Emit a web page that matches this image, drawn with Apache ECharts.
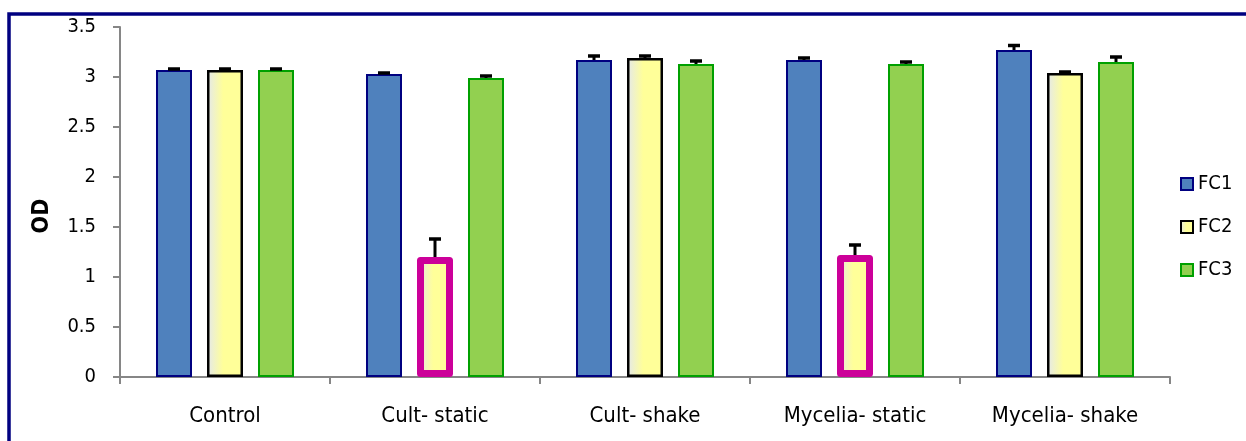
<!DOCTYPE html>
<html>
<head>
<meta charset="utf-8">
<script src="https://cdn.jsdelivr.net/npm/echarts@6/dist/echarts.min.js"></script>
<style>html,body{margin:0;padding:0;background:#fff;}#chart{width:1246px;height:441px;}</style>
</head>
<body>
<div id="chart"></div>
<script>
const categories = ['Control', 'Cult- static', 'Cult- shake', 'Mycelia- static', 'Mycelia- shake'];
const seriesNames = ['FC1', 'FC2', 'FC3'];
const yTitle = 'OD';
const fc1 = [3.07, 3.03, 3.17, 3.17, 3.27];
const fc1Err = [0.01, 0.01, 0.04, 0.02, 0.045];
const fc2 = [3.07, 1.20, 3.19, 1.22, 3.04];
const fc2Err = [0.01, 0.18, 0.02, 0.10, 0.01];
const fc3 = [3.07, 2.99, 3.13, 3.13, 3.15];
const fc3Err = [0.01, 0.02, 0.03, 0.02, 0.05];
const highlightedFc2 = [false, true, false, true, false];
const yTicks = { min: 0, max: 3.5, interval: 0.5 };

const FONT = '"DejaVu Sans Condensed", "Liberation Sans Narrow", "Liberation Sans", Arial, sans-serif';
const BAR_W = 36, BAR_GAP = 15;
const fc2Fill = { type: 'linear', x: 0, y: 0, x2: 1, y2: 0, colorStops: [
  { offset: 0, color: '#E4E8EC' }, { offset: 0.45, color: '#FFFF99' }, { offset: 1, color: '#FFFF99' } ] };

function errSeries(name, vals, errs, idx) {
  const offset = (idx - 1) * (BAR_W + BAR_GAP);
  return {
    name: name + ' err', type: 'custom', z: 5,
    data: vals.map((v, i) => [i, v, errs[i]]),
    renderItem: function (params, api) {
      const x = api.value(0), v = api.value(1), e = api.value(2);
      const base = api.coord([x, v]);
      const top = api.coord([x, v + e]);
      const cx = base[0] + offset;
      return { type: 'group', children: [
        { type: 'line', shape: { x1: cx, y1: base[1], x2: cx, y2: top[1] }, style: { stroke: '#000', lineWidth: 3 } },
        { type: 'line', shape: { x1: cx - 6, y1: top[1], x2: cx + 6, y2: top[1] }, style: { stroke: '#000', lineWidth: 3.5 } }
      ] };
    }
  };
}

const chart = echarts.init(document.getElementById('chart'), null, { renderer: 'canvas' });
chart.setOption({
  animation: false,
  backgroundColor: '#fff',
  textStyle: { fontFamily: FONT },
  graphic: [
    { type: 'rect', shape: { x: 9, y: 14, width: 1400, height: 600 },
      style: { fill: 'none', stroke: '#000080', lineWidth: 3.5 }, z: 100 },
    { type: 'text', x: 42, y: 216, rotation: Math.PI / 2,
      style: { text: yTitle, font: 'bold 23px ' + FONT, fill: '#000', align: 'center', verticalAlign: 'middle' } }
  ],
  grid: { left: 120, right: 76, top: 27, bottom: 64 },
  legend: {
    data: seriesNames, orient: 'vertical', left: 1175, top: 169,
    itemWidth: 12, itemHeight: 12, itemGap: 23, icon: 'rect',
    textStyle: { fontSize: 20, color: '#000', fontFamily: FONT }
  },
  xAxis: {
    type: 'category', data: categories,
    axisLine: { lineStyle: { color: '#868686', width: 2 } },
    axisTick: { show: true, length: 7, lineStyle: { color: '#868686', width: 2 } },
    axisLabel: { fontSize: 22, color: '#000', margin: 28, fontFamily: FONT }
  },
  yAxis: {
    type: 'value', min: yTicks.min, max: yTicks.max, interval: yTicks.interval,
    axisLine: { show: true, lineStyle: { color: '#868686', width: 2 } },
    axisTick: { show: true, length: 7, lineStyle: { color: '#868686', width: 2 } },
    splitLine: { show: false },
    axisLabel: { fontSize: 20, color: '#000', margin: 24, fontFamily: FONT }
  },
  series: [
    { name: 'FC1', type: 'bar', barWidth: BAR_W, barGap: (BAR_GAP / BAR_W * 100) + '%', data: fc1,
      itemStyle: { color: '#4F81BD', borderColor: '#000080', borderWidth: 2 } },
    { name: 'FC2', type: 'bar', barWidth: BAR_W, data: fc2.map((v, i) => highlightedFc2[i]
        ? { value: v, itemStyle: { color: fc2Fill, borderColor: '#CC0099', borderWidth: 7, borderJoin: 'round' } }
        : v),
      itemStyle: { color: fc2Fill, borderColor: '#000', borderWidth: 2.5 } },
    { name: 'FC3', type: 'bar', barWidth: BAR_W, data: fc3,
      itemStyle: { color: '#92D050', borderColor: '#00A000', borderWidth: 2 } },
    errSeries('FC1', fc1, fc1Err, 0),
    errSeries('FC2', fc2, fc2Err, 1),
    errSeries('FC3', fc3, fc3Err, 2)
  ]
});
</script>
</body>
</html>
